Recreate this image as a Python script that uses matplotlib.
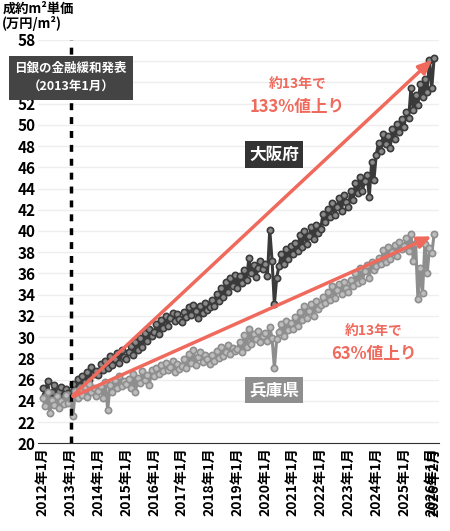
import matplotlib
matplotlib.use("Agg")
import matplotlib.pyplot as plt
import numpy as np

plt.rcParams['font.family'] = ['Noto Sans CJK JP', 'DejaVu Sans']
plt.rcParams['font.weight'] = 'bold'

# monthly values 2012-01 .. 2026-02
osaka = [
    25.2, 24.6, 25.9, 24.3, 24.8, 25.5, 24.1, 24.9, 25.3, 24.5, 25.1, 24.7,
    24.4, 25.6, 24.9, 26.1, 25.4, 26.3, 25.8, 26.7, 26.0, 27.2, 26.5, 26.8,
    26.4, 27.5, 26.9, 27.8, 27.1, 28.2, 27.4, 27.9, 28.5, 27.6, 28.8, 28.1,
    27.9, 28.6, 29.2, 28.3, 29.5, 28.8, 29.9, 29.1, 30.4, 29.6, 30.8, 30.1,
    30.5, 31.2, 30.3, 31.6, 30.9, 32.0, 31.1, 31.8, 32.3, 31.5, 32.2, 31.7,
    31.4, 32.4, 31.9, 32.8, 32.1, 33.0, 32.5, 31.8, 32.9, 32.3, 33.2, 32.6,
    32.8, 33.5, 32.9, 34.1, 33.4, 34.6, 33.8, 35.2, 34.3, 35.6, 34.8, 35.9,
    34.6, 35.8, 35.1, 36.3, 35.4, 37.5, 36.0, 36.8, 35.7, 36.5, 37.2, 36.4,
    36.9, 35.8, 40.1, 37.2, 33.1, 35.6, 36.7, 37.8, 36.9, 38.3, 37.4, 38.6,
    37.8, 38.9, 38.1, 39.6, 38.5, 40.0, 38.8, 39.5, 40.4, 39.2, 40.6, 39.8,
    40.2, 41.6, 40.8, 42.1, 41.3, 42.6, 41.5, 42.3, 43.1, 41.9, 43.4, 42.7,
    42.3, 43.8, 42.9, 44.5, 43.6, 45.1, 43.8, 44.7, 45.3, 43.2, 46.5, 44.8,
    47.2, 48.3, 47.5, 49.1, 48.2, 48.9, 47.8, 49.6, 48.7, 50.1, 49.3, 50.5,
    49.8, 51.2, 50.6, 53.5, 51.4, 52.8, 51.9, 53.8, 52.6, 54.3, 53.1, 56.1,
    53.5, 56.3,
]
hyogo = [
    24.3, 23.5, 24.8, 22.9, 24.1, 23.6, 24.5, 23.3, 24.0, 23.7, 24.6, 23.8,
    24.2, 22.6, 24.9, 24.3, 25.1, 24.6, 25.3, 24.4, 25.6, 24.8, 25.2, 24.5,
    24.9, 25.4, 24.3, 25.8, 23.1, 25.5, 24.8, 26.0, 25.2, 26.3, 25.4, 25.9,
    25.6, 26.1, 25.2, 26.5, 24.8, 26.2, 25.7, 26.8, 26.0, 26.4, 25.5, 26.9,
    26.3, 27.1, 26.5, 27.4, 26.8, 27.6, 26.9, 27.2, 27.8, 26.7, 27.5, 27.0,
    27.3, 27.9, 27.1, 28.4, 27.6, 28.8, 27.4, 28.1, 28.6, 27.7, 28.3, 27.9,
    27.5, 28.3, 27.8, 28.7, 28.0, 29.1, 28.2, 28.6, 29.3, 28.4, 29.0, 28.7,
    28.9, 29.5, 28.6, 30.2, 29.1, 30.8, 29.4, 30.3, 29.8, 30.6, 29.5, 30.1,
    30.4, 29.6, 31.0, 29.9, 27.1, 29.8, 30.5, 31.2, 30.1, 31.5, 30.7, 31.3,
    30.8, 31.9, 31.1, 32.4, 31.6, 32.9, 31.8, 32.5, 33.1, 32.0, 33.4, 32.7,
    33.0, 33.8, 33.2, 34.3, 33.5, 34.8, 33.7, 34.4, 35.0, 34.1, 35.2, 34.6,
    34.3, 35.4, 34.8, 36.0, 35.1, 36.5, 35.3, 36.2, 36.8, 35.6, 37.1, 36.3,
    36.7, 37.5, 36.9, 38.2, 37.1, 38.5, 37.4, 38.0, 38.7, 37.6, 39.0, 38.3,
    38.6, 39.3, 38.1, 39.7, 37.2, 38.9, 33.6, 36.5, 34.2, 38.8, 36.0, 38.4,
    37.9, 39.7,
]
year_labels = [f'{y}年1月' for y in range(2012, 2027)]

x = np.arange(len(osaka))

fig, ax = plt.subplots(figsize=(4.5, 5.31), dpi=100)
fig.subplots_adjust(left=0.085, right=0.975, top=0.925, bottom=0.165)

ax.plot(x, osaka, color='#3a3a3a', lw=2.2, marker='o', ms=4.5,
        mfc='#8a8a8a', mec='#3a3a3a', mew=1.2, zorder=3)
ax.plot(x, hyogo, color='#8e8e8e', lw=2.2, marker='o', ms=4.5,
        mfc='#bdbdbd', mec='#8e8e8e', mew=1.2, zorder=3)

ax.axvline(12, color='black', ls=(0, (2, 2)), lw=2.5, zorder=4)

red = '#ef6a5c'
ax.annotate('', xy=(len(osaka) - 1, 56.3), xytext=(12, 24.3),
            arrowprops=dict(arrowstyle='-|>,head_width=0.35,head_length=0.8',
                            color=red, lw=2.5), zorder=5)
ax.annotate('', xy=(len(hyogo) - 1, 39.6), xytext=(12, 24.3),
            arrowprops=dict(arrowstyle='-|>,head_width=0.35,head_length=0.8',
                            color=red, lw=2.5), zorder=5)

ax.text(110, 53.5, '約13年で', color=red, fontsize=10, ha='center')
ax.text(110, 51.2, '133%値上り', color=red, fontsize=12, ha='center')
ax.text(143, 30.2, '約13年で', color=red, fontsize=10, ha='center')
ax.text(143, 27.9, '63%値上り', color=red, fontsize=12, ha='center')

ax.text(100, 47.2, '大阪府', color='white', fontsize=12, ha='center', va='center',
        bbox=dict(boxstyle='square,pad=0.25', fc='#333333', ec='none'), zorder=6)
ax.text(100, 25.0, '兵庫県', color='white', fontsize=12, ha='center', va='center',
        bbox=dict(boxstyle='square,pad=0.25', fc='#8e8e8e', ec='none'), zorder=6)
ax.text(12, 54.4, '日銀の金融緩和発表\n（2013年1月）', color='white', fontsize=9,
        ha='center', va='center', linespacing=1.6,
        bbox=dict(boxstyle='square,pad=0.45', fc='#444444', ec='none'), zorder=6)

ax.set_ylim(20, 58)
ax.set_yticks(range(20, 59, 2))
ax.set_xlim(-2, len(osaka) + 1)
ticks = list(range(0, 169, 12)) + [len(osaka) - 1]
ax.set_xticks(ticks)
ax.set_xticklabels(year_labels + ['2026年2月'], rotation=90, fontsize=10)
ax.tick_params(axis='y', labelsize=11, length=0, pad=2)
ax.tick_params(axis='x', length=0, pad=3)
ax.grid(axis='y', color='#eeeeee', lw=1)
ax.set_axisbelow(True)
for s in ['top', 'right', 'left']:
    ax.spines[s].set_visible(False)
ax.spines['bottom'].set_color('#333333')

fig.text(0.005, 0.997, '成約m²単価\n(万円/m²)', fontsize=9.5, va='top', ha='left',
         linespacing=1.05)

fig.savefig('out.png', dpi=100)
